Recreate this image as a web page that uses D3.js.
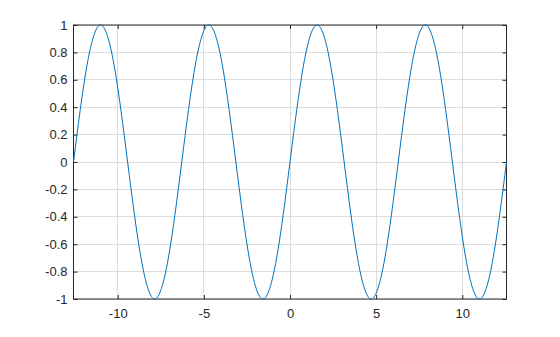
<!DOCTYPE html>
<html><head><meta charset="utf-8">
<script src="https://cdn.jsdelivr.net/npm/d3@7"></script>
<style>body{margin:0;background:#fff}text{font-family:"Liberation Sans",Arial,sans-serif}</style>
</head><body><svg id="c" width="560" height="337"></svg>
<script>
const xValues = [-12.566,-11.781,-10.996,-10.210,-9.425,-8.639,-7.854,-7.069,-6.283,-5.498,-4.712,-3.927,-3.142,-2.356,-1.571,-0.785,0,0.785,1.571,2.356,3.142,3.927,4.712,5.498,6.283,7.069,7.854,8.639,9.425,10.210,10.996,11.781,12.566];
const yValues = [0,0.707,1,0.707,0,-0.707,-1,-0.707,0,0.707,1,0.707,0,-0.707,-1,-0.707,0,0.707,1,0.707,0,-0.707,-1,-0.707,0,0.707,1,0.707,0,-0.707,-1,-0.707,0];
const xTicks = [-10,-5,0,5,10];
const yTicks = [-1,-0.8,-0.6,-0.4,-0.2,0,0.2,0.4,0.6,0.8,1];

const svg = d3.select("#c");
const L=73.5,R=506.5,T=25,B=299;
const x = d3.scaleLinear().domain([-12.566,12.566]).range([L,R]);
const y = d3.scaleLinear().domain([-1,1]).range([B,T]);
const fmt = d => d===0?"0":String(d);

// grid
svg.append("g").selectAll("line").data(xTicks).join("line")
  .attr("x1",d=>x(d)).attr("x2",d=>x(d)).attr("y1",T).attr("y2",B)
  .attr("stroke","#dcdcdc").attr("stroke-width",1).attr("shape-rendering","crispEdges");
svg.append("g").selectAll("line").data(yTicks).join("line")
  .attr("y1",d=>y(d)).attr("y2",d=>y(d)).attr("x1",L).attr("x2",R)
  .attr("stroke","#dcdcdc").attr("stroke-width",1).attr("shape-rendering","crispEdges");

// axes
const ax = svg.append("g").attr("transform",`translate(0,${B})`)
  .call(d3.axisBottom(x).tickValues(xTicks).tickSize(-4).tickPadding(10).tickFormat(fmt));
const axT = svg.append("g").attr("transform",`translate(0,${T})`)
  .call(d3.axisTop(x).tickValues(xTicks).tickSize(-4).tickFormat(""));
const ay = svg.append("g").attr("transform",`translate(${L},0)`)
  .call(d3.axisLeft(y).tickValues(yTicks).tickSize(-4).tickPadding(6).tickFormat(fmt));
const ayR = svg.append("g").attr("transform",`translate(${R},0)`)
  .call(d3.axisRight(y).tickValues(yTicks).tickSize(-4).tickFormat(""));
[ax,axT,ay,ayR].forEach(g=>{
  g.select(".domain").remove();
  g.selectAll("line").attr("stroke","#262626");
  g.selectAll("text").attr("font-size",13).attr("fill","#262626");
});
svg.append("rect").attr("x",L).attr("y",T).attr("width",R-L).attr("height",B-T)
  .attr("fill","none").attr("stroke","#262626").attr("stroke-width",1);

const data = xValues.map((v,i)=>[v,yValues[i]]);
svg.append("path").datum(data)
  .attr("d",d3.line().x(d=>x(d[0])).y(d=>y(d[1])).curve(d3.curveNatural))
  .attr("fill","none").attr("stroke","#0072BD").attr("stroke-width",1);
</script></body></html>
